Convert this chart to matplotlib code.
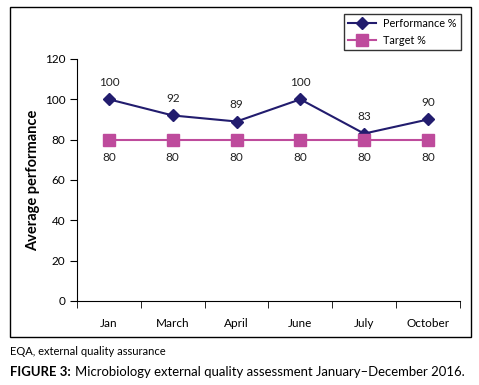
import matplotlib
matplotlib.use("Agg")
import matplotlib.pyplot as plt
from matplotlib.patches import Rectangle

months = ["Jan", "March", "April", "June", "July", "October"]
performance = [100, 92, 89, 100, 83, 90]
target = [80, 80, 80, 80, 80, 80]
yticks = [0, 20, 40, 60, 80, 100, 120]

plt.rcParams['font.family'] = ['Lato', 'DejaVu Sans']

navy = '#221C6E'
magenta = '#BE4B9C'

fig = plt.figure(figsize=(4.79, 3.85), dpi=100)
ax = fig.add_axes([0.1608, 0.2182, 0.7992, 0.6286])

x = list(range(len(months)))
ax.plot(x, performance, color=navy, marker='D', markersize=6, lw=1.5, label='Performance %')
ax.plot(x, target, color=magenta, marker='s', markersize=9, lw=1.5, label='Target %')

for xi, v in zip(x, performance):
    ax.annotate(str(v), (xi, v), xytext=(0, 8), textcoords='offset points',
                ha='center', va='bottom', fontsize=8.5, color='#222222')
for xi, v in zip(x, target):
    ax.annotate(str(v), (xi, v), xytext=(0, -9), textcoords='offset points',
                ha='center', va='top', fontsize=8.5, color='#222222')

ax.set_xlim(-0.5, len(months) - 0.5)
ax.set_ylim(0, 120)
ax.set_yticks(yticks)
ax.set_xticks(x)
ax.set_xticklabels(months, fontsize=8.5)
ax.tick_params(axis='x', length=0, pad=12)
ax.set_xticks([i - 0.5 for i in range(len(months) + 1)], minor=True)
ax.tick_params(axis='x', which='minor', length=5, direction='out', color='black')
ax.tick_params(axis='y', labelsize=8.5, length=5, direction='out')
ax.spines['top'].set_visible(False)
ax.spines['right'].set_visible(False)
ax.set_ylabel('Average performance', fontsize=10.5, fontweight='bold', labelpad=3)

leg = fig.legend(loc='upper right', bbox_to_anchor=(0.973, 0.978), fontsize=7.8,
                 frameon=True, fancybox=False, edgecolor='black', handlelength=2.6,
                 handletextpad=0.6, borderpad=0.4, labelspacing=0.5)
leg.get_frame().set_linewidth(1.0)

fig.patches.append(Rectangle((0.0209, 0.1247), 0.962, 0.857, transform=fig.transFigure,
                             fill=False, edgecolor='black', lw=1.0))

fig.text(0.0209, 0.088, 'EQA, external quality assurance', fontsize=8, ha='left', va='center')
t1 = fig.text(0.0209, 0.035, 'FIGURE 3:', fontsize=9.45, fontweight='bold', ha='left', va='center')
fig.canvas.draw()
bb = t1.get_window_extent(renderer=fig.canvas.get_renderer())
x_next = (bb.x1 + 4) / fig.bbox.width
fig.text(x_next, 0.035, 'Microbiology external quality assessment January\u2013December 2016.',
         fontsize=9.45, ha='left', va='center')

fig.savefig('out.png', dpi=100)
